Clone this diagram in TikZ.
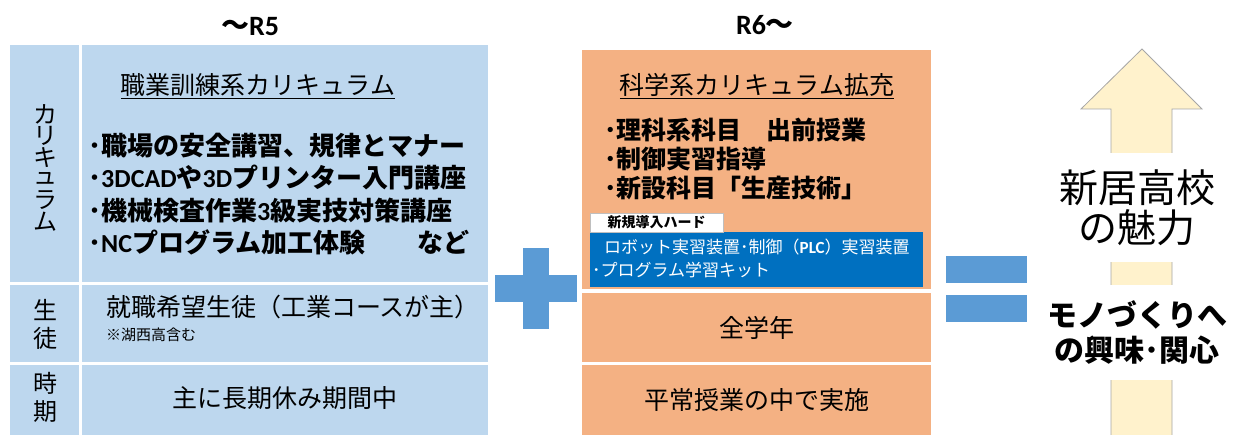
\documentclass[tikz,border=0pt]{standalone}
\usepackage{fontspec}
\setmainfont{Noto Sans CJK JP}
\newfontfamily\lat{Carlito}
\definecolor{cellblue}{HTML}{BDD7EE}
\definecolor{cellorange}{HTML}{F4B183}
\definecolor{signblue}{HTML}{5B9BD5}
\definecolor{hardblue}{HTML}{0070C0}
\definecolor{arrowfill}{HTML}{FFF2CC}
\definecolor{arrowline}{HTML}{A6A6A6}
\begin{document}
\begin{tikzpicture}[x=1pt,y=-1pt,
    txt/.style={inner sep=0pt,font=\fontsize{25}{30}\selectfont},
    title/.style={inner sep=0pt,font=\fontsize{28}{30}\selectfont\bfseries},
    side/.style={inner sep=0pt,align=center,font=\fontsize{24}{28}\selectfont},
    bul/.style={inner sep=0pt,anchor=west,align=left,font=\fontsize{26}{32.5}\selectfont\bfseries},
    hwtag/.style={draw=black!25,fill=white,inner sep=0pt,minimum width=133pt,minimum height=19pt,font=\fontsize{14}{16}\selectfont\bfseries},
    hwtext/.style={inner sep=0pt,anchor=west,align=left,text=white,font=\fontsize{17}{23}\selectfont},
    charm/.style={fill=white,inner sep=0pt,align=center,minimum height=109pt,font=\fontsize{39}{40}\selectfont},
    interest/.style={fill=white,inner sep=0pt,align=center,minimum height=95pt,font=\fontsize{30}{35}\selectfont\bfseries}]
  \useasboundingbox (0,0) rectangle (1233,435);
  \foreach \xa/\ya/\xb/\yb in{%
    10/45/79/282, 82/45/488/282,
    10/285/79/362, 82/285/488/362,
    10/365/79/440, 82/365/488/440
  }{
    \fill[color=cellblue](\xa,\ya)rectangle(\xb,\yb);
  }
  \foreach \ya/\yb in{50/289, 293/362, 365/440}{
    \fill[color=cellorange](582,\ya)rectangle(931,\yb);
  }
  \fill[color=signblue](495,275)rectangle(577,302);
  \fill[color=signblue](523,248)rectangle(549,329);
  \foreach \ya/\yb in{256/283, 295/322}{
    \fill[color=signblue](946,\ya)rectangle(1027,\yb);
  }
  \fill[color=hardblue](590,232)rectangle(923,287);
  \draw[arrowline,fill=arrowfill,line width=0.8pt](1142,49)--(1202,109)--(1172,109)--(1172,440)
    --(1111,440)--(1111,109)--(1081,109)--cycle;

  \node[title] (old) at (250,27) {～{\lat R5}};
  \node[title] (new) at (765,25) {{\lat R6}～};

  \foreach \c [count=\i] in {カ,リ,キ,ュ,ラ,ム}{
    \node[side] (curr\i) at (45,92.4+21.6*\i) {\c};
  }
  \node[txt] (oldhead) at (258,86) {\underline{職業訓練系カリキュラム}};
  \node[bul] (oldlist) at (88,194) {･職場の安全講習、規律とマナー\\･{\lat 3DCAD}や{\lat 3D}プリンター入門講座\\･機械検査作業{\lat 3}級実技対策講座\\･{\lat NC}プログラム加工体験　　など};
  \node[side] (stulabel) at (45,324) {生\\徒};
  \node[txt,anchor=west] (oldstu) at (106,307) {就職希望生徒（工業コースが主）};
  \node[inner sep=0pt,anchor=west,font=\fontsize{15}{17}\selectfont] (oldnote) at (106,335) {※湖西高含む};
  \node[side] (timelabel) at (45,397) {時\\期};
  \node[txt] (oldtime) at (285,398) {主に長期休み期間中};

  \node[txt] (newhead) at (757,86) {\underline{科学系カリキュラム拡充}};
  \node[bul,font=\fontsize{25}{29}\selectfont\bfseries] (newlist) at (604,159) {･理科系科目　出前授業\\･制御実習指導\\･新設科目「生産技術」};
  \node[hwtag] (hwlabel) at (656.5,222.5) {新規導入ハード};
  \node[hwtext] (hwlist) at (592,258.5) {\hspace*{12pt}ロボット実習装置･制御（{\lat\bfseries PLC}）実習装置\\･プログラム学習キット};
  \node[txt] (newstu) at (757,328) {全学年};
  \node[txt] (newtime) at (757,400) {平常授業の中で実施};

  \node[charm] (charmtext) at (1137,207.5) {新居高校\\の魅力};
  \node[interest] (interesttext) at (1137,332.5) {モノづくりへ\\の興味･関心};
\end{tikzpicture}
\end{document}
